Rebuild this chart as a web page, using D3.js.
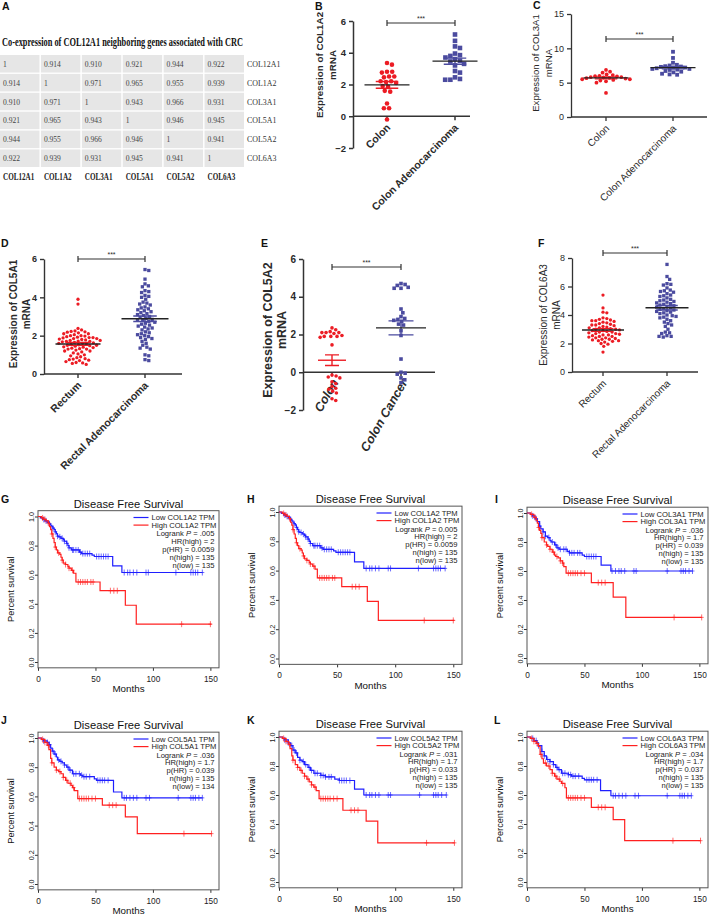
<!DOCTYPE html>
<html><head><meta charset="utf-8">
<script src="https://cdn.jsdelivr.net/npm/d3@7"></script>
<style>body{margin:0;background:#fff} svg{display:block}</style>
</head><body><svg id="fig" width="709" height="918"></svg>
<script>
// ---------------- DATA ----------------
const tableTitle = "Co-expression of COL12A1 neighboring genes associated with CRC";
const genes = ["COL12A1","COL1A2","COL3A1","COL5A1","COL5A2","COL6A3"];
const corr = [
  [1, 0.914, 0.910, 0.921, 0.944, 0.922],
  [0.914, 1, 0.971, 0.965, 0.955, 0.939],
  [0.910, 0.971, 1, 0.943, 0.966, 0.931],
  [0.921, 0.965, 0.943, 1, 0.946, 0.945],
  [0.944, 0.955, 0.966, 0.946, 1, 0.941],
  [0.922, 0.939, 0.931, 0.945, 0.941, 1]
];

const catsB = ["Colon","Colon Adenocarcinoma"];
const catsC = ["Colon","Colon Adenocarcinoma"];
const catsD = ["Rectum","Rectal Adenocarcinoma"];
const catsE = ["Colon","Colon Cancer"];
const catsF = ["Rectum","Rectal Adenocarcinoma"];

const bNormal = [3.35,3.25,2.8,2.8,2.75,2.5,2.5,2.45,2.2,2.2,2.15,2.1,1.9,1.85,1.6,1.55,0.8,0.5,0.5,-0.2];
const bTumor  = [5.15,4.75,4.4,4.3,3.95,3.85,3.8,3.7,3.6,3.5,3.45,3.3,3.2,2.85,2.75,2.45,2.35,2.3,2.3];
const cNormal = [6.85,6.6,6.45,6.2,6.1,6.0,5.95,5.9,5.8,5.8,5.75,5.7,5.65,5.6,5.5,5.5,5.4,5.3,5.2,5.0,3.5];
const cTumor  = [9.5,8.6,7.9,7.6,7.5,7.4,7.35,7.3,7.2,7.2,7.1,7.0,7.0,6.9,6.85,6.7,6.6,6.5,6.3,6.2,6.15];
const dNormal = [3.9,3.65,2.38,2.3,2.25,2.22,2.2,2.18,2.15,2.1,2.1,2.05,2.0,2.0,1.98,1.95,1.92,1.9,1.9,1.88,1.85,1.85,1.82,1.8,1.78,1.75,1.75,1.72,1.7,1.7,1.68,1.65,1.62,1.6,1.6,1.58,1.55,1.52,1.5,1.5,1.48,1.45,1.42,1.4,1.38,1.35,1.32,1.3,1.3,1.25,1.2,1.2,1.15,1.1,1.05,1.0,0.95,0.9,0.85,0.8,0.78,0.75,0.72,0.7,0.65,0.6,0.58,0.55,0.5];
const dTumor  = [5.45,5.4,4.95,4.7,4.6,4.55,4.35,4.3,4.25,4.1,4.05,4.0,3.9,3.75,3.7,3.65,3.6,3.5,3.45,3.4,3.35,3.3,3.25,3.2,3.15,3.1,3.05,3.0,2.95,2.9,2.85,2.8,2.8,2.75,2.7,2.65,2.6,2.55,2.5,2.45,2.4,2.35,2.3,2.2,2.15,2.1,2.05,2.0,1.95,1.9,1.85,1.8,1.7,1.6,1.5,1.4,1.35,1.3,1.0,0.95,0.75,0.7];
const eNormal = [2.35,2.25,2.15,2.1,2.1,2.1,2.05,1.95,1.9,1.9,1.9,1.85,1.45,-0.15,-0.2,-0.25,-0.3,-0.5,-0.6,-0.75,-0.85,-0.9,-1.0,-1.1,-1.4,-1.5];
const eTumor  = [4.7,4.65,4.6,4.5,4.45,4.45,3.35,3.15,2.95,2.85,2.8,2.75,2.7,2.55,2.5,2.2,1.95,0.7,0.0,-0.05,-0.1,-0.3,-0.4,-0.55];
const fNormal = [5.4,4.5,4.2,4.15,3.8,3.75,3.7,3.65,3.6,3.6,3.55,3.5,3.45,3.4,3.35,3.3,3.3,3.25,3.2,3.15,3.1,3.1,3.05,3.0,3.0,2.95,2.9,2.9,2.85,2.8,2.8,2.75,2.7,2.7,2.65,2.6,2.6,2.55,2.5,2.5,2.45,2.4,2.4,2.35,2.3,2.3,2.25,2.2,2.2,2.15,2.1,2.0,1.95,1.8,1.4];
const fTumor  = [7.55,6.7,6.5,6.2,6.15,6.1,5.9,5.75,5.7,5.65,5.6,5.5,5.4,5.35,5.3,5.2,5.1,5.05,5.0,4.95,4.9,4.85,4.8,4.75,4.7,4.65,4.6,4.55,4.5,4.45,4.4,4.35,4.3,4.25,4.2,4.15,4.1,4.0,3.95,3.9,3.85,3.8,3.7,3.6,3.5,3.4,3.3,3.2,3.0,2.8,2.75,2.7,2.55,2.5,2.5,2.45];

// Kaplan-Meier: [month, survival] change points, last month, censor months
const kmGene    = ["COL1A2","COL1A2","COL3A1","COL5A1","COL5A2","COL6A3"];
const kmLogrank = [".005","0.005",".036",".036",".031",".034"];
const kmHR      = ["2","2","1.7","1.7","1.7","1.7"];
const kmPHR     = ["0.0059","0.0059","0.039","0.039","0.033","0.037"];
const kmNHigh   = ["135","135","135","135","135","135"];
const kmNLow    = ["135","135","135","134","135","135"];
const kmTicksX  = [0,50,100,150];
const kmTicksY  = [0,0.2,0.4,0.6,0.8,1.0];

const low1A2  = [[0,1],[2,0.99],[4,0.98],[6,0.97],[8,0.96],[10,0.95],[11,0.94],[12,0.93],[13,0.92],[14,0.91],[15,0.895],[16,0.88],[17,0.865],[18,0.86],[20,0.85],[22,0.84],[23,0.83],[25,0.815],[26,0.8],[27,0.785],[29,0.77],[36,0.755],[38,0.745],[47,0.735],[49,0.725],[65,0.66],[73,0.615]];
const high1A2 = [[0,1],[3,0.99],[5,0.98],[7,0.97],[9,0.955],[10,0.93],[11,0.91],[12,0.88],[13,0.85],[14,0.82],[15,0.79],[16,0.77],[17,0.75],[19,0.74],[20,0.72],[21,0.7],[22,0.68],[24,0.67],[26,0.655],[27,0.645],[29,0.63],[31,0.61],[33,0.55],[54,0.49],[76,0.39],[85.5,0.26]];
const low3A1  = [[0,1],[3,0.99],[5,0.98],[7,0.96],[9,0.94],[11,0.91],[12,0.89],[14,0.87],[16,0.84],[18,0.83],[20,0.81],[21,0.8],[24,0.78],[26,0.76],[28,0.75],[35,0.735],[37,0.725],[48,0.71],[50,0.7],[64.5,0.64],[73,0.6]];
const high3A1 = [[0,1],[3,0.99],[6,0.97],[8,0.95],[9,0.93],[10,0.9],[11,0.88],[12,0.86],[13,0.83],[15,0.8],[17,0.78],[18,0.77],[20,0.75],[22,0.73],[24,0.71],[25,0.7],[27,0.69],[29,0.67],[31,0.655],[32,0.63],[34,0.585],[56,0.52],[75,0.42],[86,0.28]];
const low5A1  = [[0,1],[3,0.99],[5,0.98],[8,0.97],[9.5,0.955],[11,0.93],[12.4,0.91],[14,0.89],[16,0.87],[17,0.85],[19,0.84],[21,0.83],[23,0.815],[25,0.8],[27,0.78],[30,0.755],[37,0.745],[39,0.735],[49,0.72],[51,0.71],[65.7,0.63],[73,0.59]];
const high5A1 = [[0,1],[3,0.99],[6,0.97],[8,0.95],[9.5,0.92],[11,0.86],[12,0.83],[14,0.8],[16,0.78],[18,0.77],[20,0.755],[22,0.73],[24,0.71],[26,0.69],[28.7,0.675],[30,0.66],[31.6,0.64],[34.6,0.585],[56,0.54],[76,0.46],[86.4,0.345]];
const low5A2  = [[0,1],[3,0.99],[5,0.98],[8,0.96],[10,0.94],[12,0.91],[14,0.89],[16,0.86],[18,0.84],[20,0.83],[22,0.81],[25,0.79],[27,0.77],[30,0.75],[36,0.735],[40,0.725],[48,0.71],[52,0.7],[65,0.64],[73,0.6]];
const high5A2 = [[0,1],[3,0.99],[6,0.97],[8,0.95],[9.5,0.92],[11,0.87],[12,0.84],[14,0.81],[16,0.79],[18,0.77],[20,0.75],[22,0.73],[24,0.71],[26,0.69],[28,0.67],[30,0.655],[32,0.63],[34.5,0.575],[55,0.495],[75,0.42],[85,0.27]];
const low6A3  = [[0,1],[3,0.99],[6,0.975],[8.6,0.96],[10,0.94],[12.9,0.9],[15,0.87],[17,0.845],[20,0.83],[23,0.81],[25,0.79],[27,0.775],[30,0.75],[36,0.74],[38.6,0.73],[48,0.715],[50,0.705],[64,0.63],[73,0.595]];
const high6A3 = [[0,1],[3,0.99],[6,0.97],[8,0.955],[10,0.935],[11.4,0.88],[13,0.85],[14.3,0.82],[17,0.8],[20,0.775],[22,0.75],[24,0.73],[26,0.71],[28.6,0.695],[30,0.68],[33,0.65],[34.3,0.58],[56,0.515],[75,0.43],[85,0.285]];
const kmEndLow  = [143,143,144,143,144,143];
const kmEndHigh = [151,151,152,151,151,151];
const cenLow1A2  = [5,7,10,13,15,17,19,21,23,25,27,30,31,33,35,37,39,41,43,45,51,53,55,57,59,61,75,78,80,83,86,94,96,120,133,135,137,139,143];
const cenHigh1A2 = [4,6,9,12,15,18,21,24,27,30,35,37,39,41,43,46,48,63,66,69,125,150];
const cenLow3A1  = [5,8,11,14,16,19,22,25,27,29,32,34,37,39,41,44,46,52,54,56,58,60,74,77,80,82,85,93,95,122,134,136,138,141,144];
const cenHigh3A1 = [4,7,10,13,17,20,23,26,29,31,36,38,40,42,44,47,50,62,65,68,128,152];
const cenLow5A1  = [5,8,10,13,15,18,20,23,26,28,31,33,36,38,40,42,45,52,54,56,58,61,75,77,80,83,86,94,97,122,133,135,137,140,143];
const cenHigh5A1 = [4,6,9,12,16,19,22,25,28,31,36,38,40,42,44,47,50,62,65,68,127,151];
const cenLow5A2  = [5,8,11,13,15,18,21,23,26,28,31,33,36,38,40,43,45,52,54,56,58,61,75,78,80,83,86,94,96,121,133,135,137,140,144];
const cenHigh5A2 = [4,6,9,12,16,19,22,25,28,31,36,38,40,42,44,47,50,62,65,68,127,151];
const cenLow6A3  = [5,8,10,13,15,18,20,23,26,28,31,33,36,38,40,42,45,52,54,56,58,61,75,77,80,83,86,94,97,122,133,135,137,140,143];
const cenHigh6A3 = [4,6,9,12,16,19,22,25,28,31,36,38,40,42,44,47,50,62,65,68,127,151];
const kmLow  = [low1A2, low1A2, low3A1, low5A1, low5A2, low6A3];
const kmHigh = [high1A2, high1A2, high3A1, high5A1, high5A2, high6A3];
const kmCenLow  = [cenLow1A2, cenLow1A2, cenLow3A1, cenLow5A1, cenLow5A2, cenLow6A3];
const kmCenHigh = [cenHigh1A2, cenHigh1A2, cenHigh3A1, cenHigh5A1, cenHigh5A2, cenHigh6A3];

// ---------------- DRAWING ----------------
const svg = d3.select("#fig");
const SANS = "'Liberation Sans', Arial, sans-serif";
const SERIF = "'Liberation Serif', 'Times New Roman', serif";
const RED = "#ec1c24", BLUE = "#4b4b9f", INK = "#2a2a2a";

function letter(t, x, y) {
  svg.append("text").attr("x", x).attr("y", y).attr("font-family", SANS)
    .attr("font-weight", "bold").attr("font-size", 10.5).attr("fill", "#111").text(t);
}

// ---- Panel A : table ----
(function(){
  letter("A", 2, 10);
  const g = svg.append("g").attr("font-family", SERIF);
  g.append("text").attr("x", 2).attr("y", 46).attr("font-weight", "bold").attr("font-size", 12.5)
    .attr("textLength", 241).attr("lengthAdjust", "spacingAndGlyphs").attr("fill", "#111").text(tableTitle);
  const cx = d3.scaleBand().domain(d3.range(genes.length)).range([0, 244]).paddingInner(0.035);
  const ry = d3.scaleBand().domain(d3.range(genes.length)).range([55, 167]).paddingInner(0.07);
  corr.forEach((row, j) => {
    row.forEach((v, i) => {
      g.append("rect").attr("x", cx(i)).attr("y", ry(j)).attr("width", cx.bandwidth())
        .attr("height", ry.bandwidth()).attr("fill", "#e6e6e6");
      g.append("text").attr("transform", `translate(${cx(i)+3},${ry(j)+ry.bandwidth()/2+3}) scale(0.84,1)`)
        .attr("font-size", 9).attr("fill", "#444").text(v === 1 ? "1" : d3.format(".3f")(v));
    });
    g.append("text").attr("transform", `translate(247,${ry(j)+ry.bandwidth()/2+3}) scale(0.9,1)`)
      .attr("font-size", 8.8).attr("fill", "#333").text(genes[j]);
  });
  genes.forEach((gn, i) => {
    g.append("text").attr("transform", `translate(${cx(i)+3},180) scale(0.68,1)`)
      .attr("font-size", 10.5).attr("font-weight", "bold").attr("fill", "#222").text(gn);
  });
})();

// ---- scatter panels ----
function swarm(vals, y, r, gap) {
  const D = 2*r + gap;
  const pts = vals.map(v => ({v, py: y(v)})).sort((a,b) => a.py - b.py);
  const placed = [];
  pts.forEach(p => {
    const cands = [0];
    placed.forEach(q => {
      const dy = Math.abs(q.py - p.py);
      if (dy < D) { const dx = Math.sqrt(D*D - dy*dy); cands.push(q.dx + dx, q.dx - dx); }
    });
    cands.sort((a,b) => Math.abs(a) - Math.abs(b));
    for (const c of cands) {
      if (placed.every(q => (q.dx-c)*(q.dx-c) + (q.py-p.py)*(q.py-p.py) >= D*D - 1e-6)) { p.dx = c; break; }
    }
    placed.push(p);
  });
  return placed;
}

function drawScatter(c) {
  letter(c.letter, c.lx, c.ly);
  const fw = c.bold ? "bold" : "normal";
  const g = svg.append("g").attr("font-family", SANS).attr("font-weight", fw).attr("fill", INK);
  const y = d3.scaleLinear().domain(c.domain).range([c.yBot, c.yTop]);
  const x = d3.scalePoint().domain(c.cats).range(c.cx);
  const y0 = y(0);
  c.cats.forEach(cat => {
    g.append("text").attr("transform", `translate(${x(cat)+c.catDx},${y0+c.catDy}) rotate(${c.rot})`)
      .attr("text-anchor", "end").attr("font-size", c.fCat).attr("font-style", c.italic ? "italic" : "normal")
      .text(cat);
  });
  const ya = g.append("g").attr("transform", `translate(${c.ax},0)`)
    .call(d3.axisLeft(y).tickValues(c.ticks).tickSize(4).tickSizeOuter(0).tickPadding(3).tickFormat(d3.format("d")));
  ya.selectAll("path,line").attr("stroke", "#333").attr("stroke-width", c.lw);
  ya.selectAll("text").attr("font-size", c.fTick).attr("font-family", SANS).attr("font-weight", fw).attr("fill", INK);
  g.append("line").attr("x1", c.ax).attr("x2", c.xEnd).attr("y1", y0).attr("y2", y0)
    .attr("stroke", "#333").attr("stroke-width", c.lw);
  c.cats.forEach(cat => {
    g.append("line").attr("x1", x(cat)).attr("x2", x(cat)).attr("y1", y0).attr("y2", y0 + 4)
      .attr("stroke", "#333").attr("stroke-width", c.lw);
  });
  g.append("text").attr("transform", `translate(${c.tx[0]},${c.ty}) rotate(-90)`).attr("dy", "0.35em")
    .attr("text-anchor", "middle").attr("font-size", c.fTitle).text(c.title);
  g.append("text").attr("transform", `translate(${c.tx[1]},${c.ty}) rotate(-90)`).attr("dy", "0.35em")
    .attr("text-anchor", "middle").attr("font-size", c.fTitle).text("mRNA");
  const [xa, xb] = [x(c.cats[0]), x(c.cats[1])];
  g.append("path").attr("d", `M${xa},${c.brY-3}V${c.brY+3}M${xa},${c.brY}H${xb}M${xb},${c.brY-3}V${c.brY+3}`)
    .attr("stroke", "#333").attr("stroke-width", 1.2).attr("fill", "none");
  g.append("text").attr("x", (xa+xb)/2).attr("y", c.brY - 2.5).attr("text-anchor", "middle")
    .attr("font-size", 7).attr("font-weight", "normal").text("***");
  [0, 1].forEach(gi => {
    const vals = c.data[gi];
    const px = x(c.cats[gi]);
    const col = gi === 0 ? RED : BLUE;
    const pts = swarm(vals, y, c.r, 0.6);
    if (gi === 0) {
      g.selectAll(null).data(pts).enter().append("circle")
        .attr("cx", d => px + d.dx).attr("cy", d => d.py).attr("r", c.r).attr("fill", col);
    } else {
      g.selectAll(null).data(pts).enter().append("rect")
        .attr("x", d => px + d.dx - c.r).attr("y", d => d.py - c.r).attr("width", 2*c.r).attr("height", 2*c.r).attr("fill", col);
    }
    const m = d3.mean(vals), s = d3.deviation(vals) / Math.sqrt(vals.length);
    const sw = c.mw[gi] * 0.5;
    g.append("path").attr("d", `M${px},${y(m-s)}V${y(m+s)}M${px-sw/2},${y(m-s)}H${px+sw/2}M${px-sw/2},${y(m+s)}H${px+sw/2}`)
      .attr("stroke", col).attr("stroke-width", 1.4).attr("fill", "none");
    g.append("line").attr("x1", px - c.mw[gi]/2).attr("x2", px + c.mw[gi]/2).attr("y1", y(m)).attr("y2", y(m))
      .attr("stroke", c.meanCol[gi]).attr("stroke-width", 1.4);
  });
}

const scatterPanels = [
  {letter:"B", lx:315, ly:10, data:[bNormal,bTumor], cats:catsB, title:"Expression of COL1A2", domain:[-2,6], ticks:[-2,0,2,4,6],
   ax:353, yTop:21, yBot:148, xEnd:470, cx:[387,455], brY:23, tx:[320,333], ty:65, bold:true, fTick:9.5, fTitle:9.8, fCat:10.5,
   rot:-45, catDx:4, catDy:12, italic:false, r:2.3, mw:[45,45], meanCol:["#222","#222"], lw:1.5},
  {letter:"C", lx:533, ly:9, data:[cNormal,cTumor], cats:catsC, title:"Expression of COL3A1", domain:[0,15], ticks:[0,5,10,15],
   ax:571, yTop:14, yBot:117, xEnd:707, cx:[606,673], brY:39, tx:[536,549], ty:63, bold:false, fTick:9, fTitle:9.6, fCat:10,
   rot:-45, catDx:4, catDy:12, italic:false, r:1.9, mw:[45,45], meanCol:["#222","#222"], lw:1.3},
  {letter:"D", lx:1, ly:247, data:[dNormal,dTumor], cats:catsD, title:"Expression of COL5A1", domain:[0,6], ticks:[0,2,4,6],
   ax:44, yTop:259, yBot:374, xEnd:182, cx:[78,145], brY:259, tx:[13,26], ty:314, bold:true, fTick:9, fTitle:10, fCat:10.5,
   rot:-45, catDx:4, catDy:12, italic:false, r:1.65, mw:[45,47], meanCol:["#222","#222"], lw:1.4},
  {letter:"E", lx:261, ly:247, data:[eNormal,eTumor], cats:catsE, title:"Expression of COL5A2", domain:[-2,6], ticks:[-2,0,2,4,6],
   ax:303, yTop:259, yBot:410, xEnd:435, cx:[332,401], brY:267, tx:[268,282], ty:330, bold:true, fTick:10, fTitle:12.5, fCat:12.5,
   rot:-60, catDx:7, catDy:10, italic:true, r:1.8, mw:[28,50], meanCol:[RED,"#222"], lw:1.5},
  {letter:"F", lx:538, ly:247, data:[fNormal,fTumor], cats:catsF, title:"Expression of COL6A3", domain:[0,8], ticks:[0,2,4,6,8],
   ax:572, yTop:258, yBot:372, xEnd:698, cx:[603,667], brY:253, tx:[543,556], ty:315, bold:false, fTick:9, fTitle:10, fCat:10,
   rot:-45, catDx:4, catDy:12, italic:false, r:1.65, mw:[42,43], meanCol:["#222","#222"], lw:1.3}
];
scatterPanels.forEach(drawScatter);

// ---- Kaplan-Meier panels ----
function sAt(steps, t) { let s = 1; steps.forEach(p => { if (p[0] <= t) s = p[1]; }); return s; }

function drawKM(k, i) {
  letter(k.letter, k.lx, k.ly);
  const L = k.left, W = k.w;
  const x = d3.scaleLinear().domain([0, 157.5]).range([L, L + W]);
  const y = d3.scaleLinear().domain([0, 1]).range([k.y0, k.y1]);
  const g = svg.append("g").attr("font-family", SANS).attr("fill", "#111");
  const top = y(1.04), bot = y(-0.04);
  g.append("text").attr("x", L + W/2).attr("y", top - 3).attr("text-anchor", "middle").attr("font-size", 11.2)
    .text("Disease Free Survival");
  const ya = g.append("g").attr("transform", `translate(${L},0)`)
    .call(d3.axisLeft(y).tickValues(kmTicksY).tickSize(3).tickFormat(d3.format(".1f")));
  ya.select(".domain").remove();
  ya.selectAll("line").attr("stroke", "#333");
  ya.selectAll("text").attr("x", null).attr("dy", null).attr("transform", "translate(-4.5,0) rotate(-90)")
    .attr("text-anchor", "middle").attr("font-size", 7.2).attr("font-family", SANS).attr("fill", "#222");
  const xa = g.append("g").attr("transform", `translate(0,${bot})`)
    .call(d3.axisBottom(x).tickValues(kmTicksX).tickSize(3).tickPadding(5));
  xa.select(".domain").remove();
  xa.selectAll("line").attr("stroke", "#333");
  xa.selectAll("text").attr("font-size", 8.3).attr("font-family", SANS).attr("fill", "#222");
  g.append("text").attr("x", L + W/2).attr("y", bot + 24.5).attr("text-anchor", "middle").attr("font-size", 9.8).text("Months");
  g.append("text").attr("transform", `translate(${L - 27},${(y(0)+y(1))/2}) rotate(-90)`).attr("dy", "0.35em")
    .attr("text-anchor", "middle").attr("font-size", 9.2).text("Percent survival");
  g.append("rect").attr("x", L).attr("y", top).attr("width", W).attr("height", bot - top)
    .attr("fill", "none").attr("stroke", "#555").attr("stroke-width", 1);
  const line = d3.line().x(d => x(d[0])).y(d => y(d[1])).curve(d3.curveStepAfter);
  const curves = [
    {steps: kmLow[i], end: kmEndLow[i], cen: kmCenLow[i], col: "#1f1fff"},
    {steps: kmHigh[i], end: kmEndHigh[i], cen: kmCenHigh[i], col: "#ff2020"}
  ];
  curves.forEach(cv => {
    const pts = cv.steps.concat([[cv.end, cv.steps[cv.steps.length-1][1]]]);
    g.append("path").attr("d", line(pts)).attr("fill", "none").attr("stroke", cv.col).attr("stroke-width", 1.2);
    g.selectAll(null).data(cv.cen).enter().append("path")
      .attr("d", t => { const px = x(t), py = y(sAt(cv.steps, t)); return `M${px},${py-3}V${py+3}M${px-2},${py}H${px+2}`; })
      .attr("stroke", cv.col).attr("stroke-opacity", 0.65).attr("stroke-width", 1).attr("fill", "none");
  });
  const lx = L + W - 4.5, ly = y(1);
  const lg = g.append("g").attr("font-size", 7.6).attr("fill", "#222");
  [["Low " + kmGene[i] + " TPM", "#1f1fff"], ["High " + kmGene[i] + " TPM", "#ff2020"]].forEach((d, j) => {
    const yy = ly + 1 + j*7.6;
    lg.append("line").attr("x1", lx - 81).attr("x2", lx - 66).attr("y1", yy).attr("y2", yy).attr("stroke", d[1]).attr("stroke-width", 1.2);
    lg.append("text").attr("x", lx - 63).attr("y", yy + 2.7).text(d[0]);
  });
  const lr = lg.append("text").attr("x", lx).attr("y", ly + 1 + 2*7.9 + 2.7).attr("text-anchor", "end");
  lr.append("tspan").text("Logrank ");
  lr.append("tspan").attr("font-style", "italic").text("P");
  lr.append("tspan").text(" = " + kmLogrank[i]);
  const rest = ["HR(high) = " + kmHR[i], "p(HR) = " + kmPHR[i], "n(high) = " + kmNHigh[i], "n(low) = " + kmNLow[i]];
  rest.forEach((t, j) => {
    lg.append("text").attr("x", lx).attr("y", ly + 1 + (3 + j)*7.9 + 2.7).attr("text-anchor", "end").text(t);
  });
}

const kmPanels = [
  {letter:"G", lx:1, ly:503, left:38, w:181, y1:516.5, y0:662},
  {letter:"H", lx:247, ly:503, left:279, w:183, y1:512, y0:658.5},
  {letter:"I", lx:495, ly:503, left:527, w:181, y1:513, y0:658},
  {letter:"J", lx:1, ly:724, left:38, w:181, y1:738, y0:884},
  {letter:"K", lx:247, ly:724, left:279, w:183, y1:737, y0:882},
  {letter:"L", lx:494, ly:724, left:527, w:181, y1:737, y0:882}
];
kmPanels.forEach(drawKM);
</script></body></html>
